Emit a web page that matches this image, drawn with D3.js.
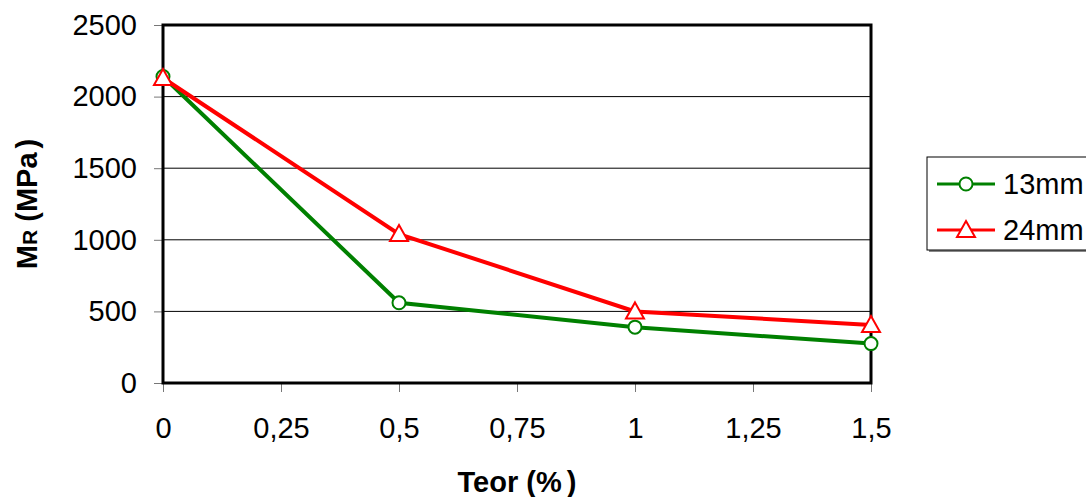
<!DOCTYPE html>
<html>
<head>
<meta charset="utf-8">
<script src="https://cdn.jsdelivr.net/npm/d3@7"></script>
<style>
  html, body { margin: 0; padding: 0; background: #fff; }
  svg { display: block; font-family: "Liberation Sans", Arial, sans-serif; }
</style>
</head>
<body>
<svg id="chart" width="1086" height="497"></svg>
<script>
// Teor (%) on the x axis
const teor = [0, 0.5, 1, 1.5];
const xTicks = [0, 0.25, 0.5, 0.75, 1, 1.25, 1.5];
const yTicks = [0, 500, 1000, 1500, 2000, 2500];
const seriesNames = ["13mm", "24mm"];
const mr13 = [2140, 560, 390, 275];
const mr24 = [2130, 1040, 500, 405];

const svg = d3.select("#chart");
const plot = { left: 163, right: 871, top: 25, bottom: 383 };
const FONT = "Liberation Sans, Arial, sans-serif";

const x = d3.scaleLinear().domain([0, 1.5]).range([plot.left, plot.right]);
const y = d3.scaleLinear().domain([0, 2500]).range([plot.bottom, plot.top]);
const fmt = d => String(d).replace(".", ",");

// gridlines
svg.append("g")
  .selectAll("line")
  .data(yTicks.filter(d => d > 0 && d < 2500))
  .join("line")
  .attr("x1", plot.left).attr("x2", plot.right)
  .attr("y1", d => y(d)).attr("y2", d => y(d))
  .attr("stroke", "#000").attr("stroke-width", 1);

// y axis
const yAxis = svg.append("g")
  .attr("transform", `translate(${plot.left},0)`)
  .call(d3.axisLeft(y).tickValues(yTicks).tickSize(9).tickPadding(17).tickFormat(d => d));
yAxis.select(".domain").remove();
yAxis.selectAll(".tick line").attr("stroke", "#777");
yAxis.selectAll(".tick text").attr("font-size", 29).attr("fill", "#000")
  .attr("font-family", FONT);

// x axis
const xAxis = svg.append("g")
  .attr("transform", `translate(0,${plot.bottom})`)
  .call(d3.axisBottom(x).tickValues(xTicks).tickSize(9).tickPadding(25).tickFormat(fmt));
xAxis.select(".domain").remove();
xAxis.selectAll(".tick line").attr("stroke", "#777");
xAxis.selectAll(".tick text").attr("font-size", 29).attr("fill", "#000")
  .attr("font-family", FONT);

// plot frame
svg.append("rect")
  .attr("x", plot.left).attr("y", plot.top)
  .attr("width", plot.right - plot.left).attr("height", plot.bottom - plot.top)
  .attr("fill", "none").attr("stroke", "#000").attr("stroke-width", 3);

const series = [
  { name: seriesNames[0], values: mr13, color: "#008000", marker: "circle" },
  { name: seriesNames[1], values: mr24, color: "#ff0000", marker: "triangle" }
];

const line = d3.line().x(d => x(d[0])).y(d => y(d[1]));
const triPath = "M0,-9 L9,7 L-9,7 Z";

function drawMarker(g, type, color) {
  if (type === "circle") {
    g.append("circle").attr("r", 6.5).attr("fill", "#fff")
      .attr("stroke", color).attr("stroke-width", 2);
  } else {
    g.append("path").attr("d", triPath).attr("fill", "#fff")
      .attr("stroke", color).attr("stroke-width", 2);
  }
}

series.forEach(s => {
  const pts = teor.map((t, i) => [t, s.values[i]]);
  svg.append("path").datum(pts)
    .attr("d", line).attr("fill", "none")
    .attr("stroke", s.color).attr("stroke-width", 4);
  pts.forEach(p => {
    const g = svg.append("g").attr("transform", `translate(${x(p[0])},${y(p[1])})`);
    drawMarker(g, s.marker, s.color);
  });
});

// legend
const leg = svg.append("g");
leg.append("rect").attr("x", 929).attr("y", 159).attr("width", 170).attr("height", 93)
  .attr("fill", "#888");
leg.append("rect").attr("x", 927).attr("y", 157).attr("width", 170).attr("height", 93)
  .attr("fill", "#fff").attr("stroke", "#000").attr("stroke-width", 1);
series.forEach((s, i) => {
  const cy = 184 + i * 46;
  leg.append("line").attr("x1", 937).attr("x2", 995).attr("y1", cy).attr("y2", cy)
    .attr("stroke", s.color).attr("stroke-width", 3);
  const g = leg.append("g").attr("transform", `translate(966,${cy})`);
  drawMarker(g, s.marker, s.color);
  leg.append("text").attr("x", 1003).attr("y", cy + 10)
    .attr("font-size", 29).attr("fill", "#000").text(s.name);
});

// axis titles
const xt = svg.append("text")
  .attr("x", 517).attr("y", 492).attr("text-anchor", "middle")
  .attr("font-size", 29).attr("font-weight", "bold");
xt.append("tspan").text("Teor (%");
xt.append("tspan").attr("dx", 5).text(")");

const yt = svg.append("text")
  .attr("transform", "translate(37,204) rotate(-90)")
  .attr("text-anchor", "middle")
  .attr("font-size", 29).attr("font-weight", "bold");
yt.append("tspan").text("M");
yt.append("tspan").attr("font-size", 21).text("R");
yt.append("tspan").text(" (MPa");
yt.append("tspan").attr("dx", 4).text(")");
</script>
</body>
</html>
